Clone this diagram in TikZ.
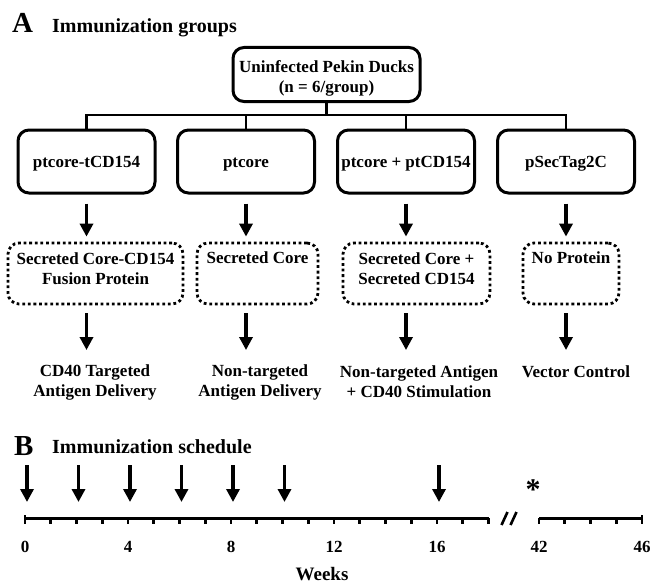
\documentclass[tikz,border=0pt]{standalone}
\usepackage{fontspec}
\setmainfont{Liberation Serif}
\usetikzlibrary{arrows.meta, positioning, calc}

\begin{document}
\begin{tikzpicture}[x=1pt, y=-1pt]
  \tikzset{
  panel/.style={font=\fontsize{29}{30}\selectfont\bfseries, inner sep=0pt,
    anchor=base west},
  ptitle/.style={font=\fontsize{20}{22}\selectfont\bfseries, inner sep=0pt,
    anchor=base west},
  groupbox/.style={draw, rounded corners=11pt, line width=3pt,
    minimum height=63pt, align=center, inner sep=0pt, text height=15pt,
    font=\fontsize{17}{20}\selectfont\bfseries},
  protbox/.style={draw, rounded corners=11pt, line width=2.8pt,
    dash pattern=on 2.8pt off 2.8pt, minimum height=61pt, align=center,
    inner sep=0pt, text height=23pt, font=\fontsize{17}{20}\selectfont\bfseries},
  outcome/.style={align=center, inner sep=0pt,
    font=\fontsize{17}{20}\selectfont\bfseries},
  link/.style={line width=2.8pt},
  flow/.style={line width=3.4pt, -{Triangle[width=13pt, length=13pt]}},
  axisline/.style={line width=3pt},
  tickmark/.style={line width=2.6pt},
  ticklbl/.style={font=\fontsize{17}{20}\selectfont\bfseries, inner sep=0pt},
}
\useasboundingbox (0,0) rectangle (652,586);

% ── Panel A: immunization groups ─────────────────────────────
\node[panel]  (pA) at (12,33) {A};
\node[ptitle] (tA) at (52,33) {Immunization groups};

% ── Top box ──────────────────────────────────────────────────
\node[groupbox, minimum width=187pt, minimum height=54pt, text height=39pt]
  (ducks) at (326.5,74.5) {Uninfected Pekin Ducks\\(n = 6/group)};

% ── Plasmid groups ───────────────────────────────────────────
\node[groupbox, minimum width=137pt] (g1) at ( 86.5,161.5) {ptcore-tCD154};
\node[groupbox, minimum width=137pt] (g2) at (246.0,161.5) {ptcore};
\node[groupbox, minimum width=137pt] (g3) at (406.0,161.5) {ptcore + ptCD154};
\node[groupbox, minimum width=137pt] (g4) at (566.0,161.5) {pSecTag2C};

% ── Secreted products ────────────────────────────────────────
\node[protbox, minimum width=175pt] (p1) at ( 95.5,273.5)
  {Secreted Core-CD154\\Fusion Protein};
\node[protbox, minimum width=121pt] (p2) at (257.5,273.5)
  {Secreted Core\\\phantom{Xy}};
\node[protbox, minimum width=147pt] (p3) at (416.5,273.5)
  {Secreted Core +\\Secreted CD154};
\node[protbox, minimum width=96pt]  (p4) at (571.0,273.5)
  {No Protein\\\phantom{Xy}};

% ── Outcomes ─────────────────────────────────────────────────
\node[outcome] (o1) at ( 95,382) {CD40 Targeted\\Antigen Delivery};
\node[outcome] (o2) at (260,382) {Non-targeted\\Antigen Delivery};
\node[outcome] (o3) at (419,382) {Non-targeted Antigen\\+ CD40 Stimulation};
\node[outcome] (o4) at (576,372) {Vector Control};

% ── Tree connectors ──────────────────────────────────────────
\coordinate (bus) at (326.5,115);
\draw[link] (ducks.south) -- (ducks.south |- bus);
\draw[link] (g1.north) |- (bus) -| (g4.north);
\foreach \g in {g2, g3}{
  \draw[link] (\g.north) -- (\g.north |- bus);
}

% ── Arrows down each column ──────────────────────────────────
\foreach \i in {1,...,4}{
  \draw[flow, shorten <=9pt, shorten >=5pt] (g\i.south) -- (g\i.south |- p\i.north);
  \draw[flow, shorten <=8pt, shorten >=14pt] (g\i.south |- p\i.south) -- (g\i.south |- o1.north);
}

% ── Panel B: immunization schedule ───────────────────────────
\node[panel]  (pB) at (14,455) {B};
\node[ptitle] (tB) at (52,453) {Immunization schedule};

% ── Week positions on the axis ───────────────────────────────
\foreach \w in {0,...,18}{
  \coordinate (w\w) at ({25+\w*25.75},518);
}
\foreach \w in {42,...,46}{
  \coordinate (w\w) at ({539+(\w-42)*25.75},518);
}

% ── Axis, ticks, labels ──────────────────────────────────────
\draw[axisline] (w0) -- (w18);
\draw[axisline] (w42) -- (w46);
\foreach \w in {0,...,18,42,43,44,45,46}{
  \draw[tickmark] (w\w) -- ++(0,6);
}
\draw[tickmark] (w0) -- ++(0,-3);
\draw[tickmark] (w46) -- ++(0,-3);
\foreach \w in {0,4,8,12,16,42,46}{
  \node[ticklbl] (l\w) at ($(w\w)+(0,29)$) {\w};
}

% axis break
\draw[tickmark] ($(w18)+(13,7)$) -- ++(6,-13);
\draw[tickmark] ($(w18)+(22,7)$) -- ++(6,-13);

\node[font=\fontsize{30}{30}\selectfont\bfseries, inner sep=0pt]
  (star) at (533,490) {*};
\node[font=\fontsize{19}{20}\selectfont\bfseries, inner sep=0pt]
  (weeks) at (322,574) {Weeks};

% ── Immunization arrows ──────────────────────────────────────
\foreach \w in {0,2,4,6,8,10,16}{
  \draw[flow] ([xshift=2pt, yshift=53pt]w\w) -- ([xshift=2pt, yshift=16pt]w\w);
}

\end{tikzpicture}
\end{document}
